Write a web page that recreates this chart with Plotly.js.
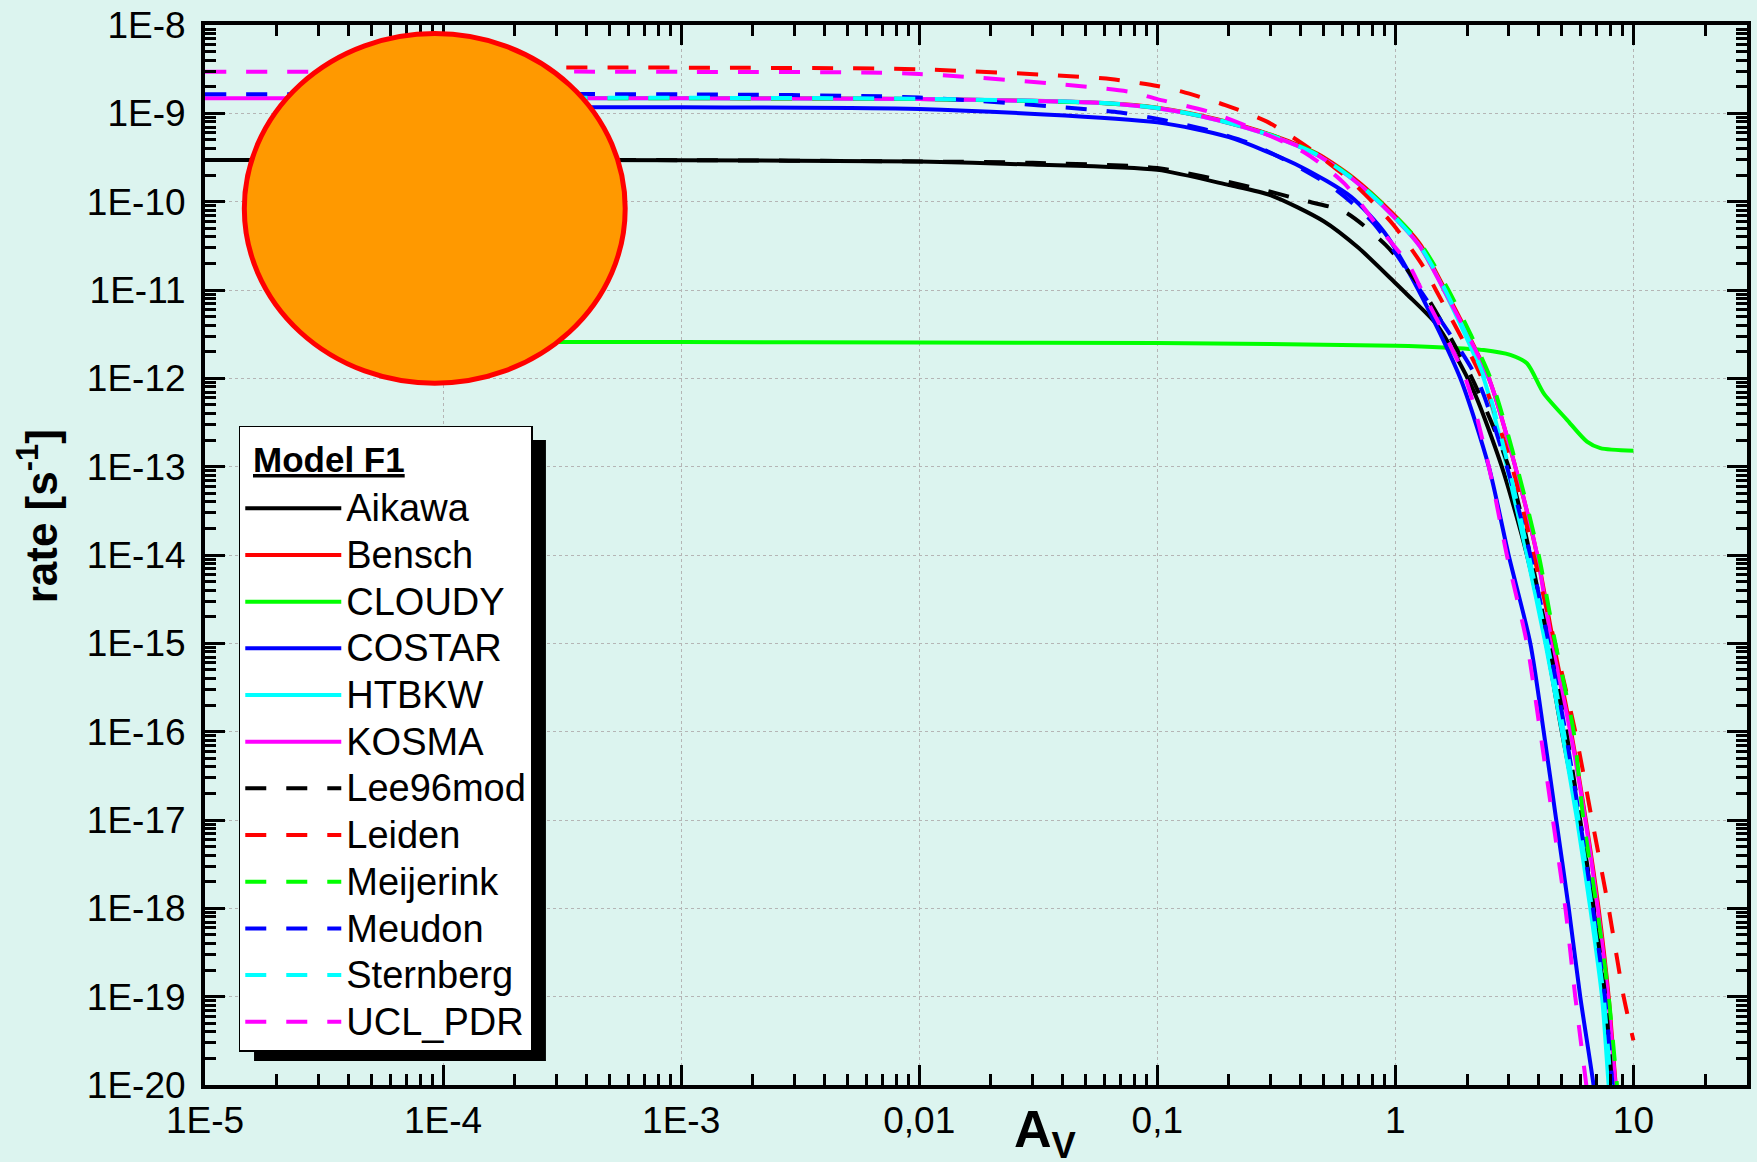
<!DOCTYPE html>
<html><head><meta charset="utf-8">
<script src="https://cdn.plot.ly/plotly-3.0.1.min.js"></script>
<style>html,body{margin:0;padding:0;background:#dcf4ef;}</style>
</head><body><div id="chart" style="width:1757px;height:1162px;"></div>
<script>
// ---- data (A_V, rate [s^-1]) ----
const seriesNames = ['Aikawa','Bensch','CLOUDY','COSTAR','HTBKW','KOSMA','Lee96mod','Leiden','Meijerink','Meudon','Sternberg','UCL_PDR'];
const seriesColors = ['#000000','#ff0000','#00ff00','#0000ff','#00ffff','#ff00ff','#000000','#ff0000','#00ff00','#0000ff','#00ffff','#ff00ff'];
const seriesDash = ['solid','solid','solid','solid','solid','solid','dash','dash','dash','dash','dash','dash'];

const x_Aikawa = [1e-5,1e-4,1e-3,0.01,0.03,0.1,0.2,0.3,0.5,0.7,1.0,1.12,1.5,2.1,2.8,3.57,4.3,5.0,5.9,6.8,7.5,8.0,8.5];
const y_Aikawa = [2.96e-10,2.96e-10,2.95e-10,2.84e-10,2.63e-10,2.29e-10,1.54e-10,1.18e-10,6.0e-11,3.0e-11,1.2e-11,8.9e-12,3.98e-12,7.9e-13,1e-13,1e-14,1e-15,1e-16,1e-17,1e-18,1e-19,1e-20,1.6e-21];

const x_Bensch = [1e-4,1e-3,0.01,0.06,0.1,0.178,0.308,0.469,0.668,0.953,1.27,1.62,2.47,3.19,3.94,4.62,5.47,6.31,7.14,7.87,8.43,8.9];
const y_Bensch = [1.49e-9,1.49e-9,1.45e-9,1.31e-9,1.16e-9,8.6e-10,5.6e-10,3.5e-10,1.85e-10,7.8e-11,3.3e-11,1e-11,1e-12,1e-13,1e-14,1e-15,1e-16,1e-17,1e-18,1e-19,1e-20,2.5e-21];

const x_CLOUDY = [1e-4,1e-3,0.01,0.1,1.0,1.59,2.35,3.04,3.57,4.2,5.26,6.38,7.26,10];
const y_CLOUDY = [2.59e-12,2.57e-12,2.54e-12,2.51e-12,2.34e-12,2.24e-12,2.09e-12,1.84e-12,1.48e-12,6.76e-13,3.39e-13,1.92e-13,1.62e-13,1.51e-13];

const x_COSTAR = [1e-4,1e-3,0.01,0.1,0.2,0.4,0.65,0.9,1.25,1.875,2.47,2.99,3.69,4.2,4.74,5.35,5.98,6.8,7.3];
const y_COSTAR = [1.17e-9,1.17e-9,1.12e-9,7.9e-10,5.37e-10,2.49e-10,1.14e-10,4.47e-11,1e-11,1e-12,1e-13,1e-14,1e-15,1e-16,1e-17,1e-18,1e-19,1e-20,2e-21];

const x_HTBKW = [1e-4,1e-3,0.01,0.06,0.1,0.178,0.308,0.469,0.668,0.953,1.27,1.6,2.35,2.94,3.57,4.27,5.01,5.8,6.59,7.38,7.87,8.3];
const y_HTBKW = [1.48e-9,1.48e-9,1.45e-9,1.30e-9,1.14e-9,8.41e-10,5.45e-10,3.37e-10,1.76e-10,7.38e-11,3.10e-11,1e-11,1e-12,1e-13,1e-14,1e-15,1e-16,1e-17,1e-18,1e-19,1e-20,2e-21];

const x_KOSMA = [1e-5,1e-4,1e-3,0.01,0.06,0.1,0.178,0.308,0.469,0.668,0.953,1.27,1.6,2.47,3.19,3.94,4.55,5.43,6.28,7.08,7.82,8.4,8.9];
const y_KOSMA = [1.48e-9,1.48e-9,1.48e-9,1.45e-9,1.30e-9,1.14e-9,8.41e-10,5.45e-10,3.37e-10,1.76e-10,7.38e-11,3.10e-11,1e-11,1e-12,1e-13,1e-14,1e-15,1e-16,1e-17,1e-18,1e-19,1e-20,2e-21];

const x_Lee96mod = [1e-5,1e-3,0.01,0.03,0.1,0.26,0.4,0.61,0.91,1.3,2.1,2.99,3.69,4.41,5.22,5.98,6.81,7.62,8.13,8.6];
const y_Lee96mod = [2.96e-10,2.95e-10,2.85e-10,2.75e-10,2.4e-10,1.42e-10,1.05e-10,7.7e-11,3.24e-11,1e-11,1e-12,1e-13,1e-14,1e-15,1e-16,1e-17,1e-18,1e-19,1e-20,1.6e-21];

const x_Leiden = [1e-4,1e-3,0.01,0.059,0.085,0.1,0.127,0.193,0.289,0.44,0.668,0.977,1.31,1.48,2.31,3.09,3.81,4.68,5.7,6.7,7.87,9.1,10];
const y_Leiden = [3.29e-9,3.29e-9,3.15e-9,2.49e-9,2.19e-9,2.04e-9,1.76e-9,1.24e-9,8.05e-10,3.92e-10,1.61e-10,5.55e-11,1.84e-11,1e-11,1e-12,1e-13,1e-14,1e-15,1e-16,1e-17,1e-18,1e-19,3.2e-20];

const x_Meijerink = [1e-4,1e-3,0.01,0.06,0.1,0.178,0.308,0.469,0.668,0.953,1.27,1.67,2.51,3.24,4.0,4.7,5.61,6.17,7.03,7.87,8.53,9.0];
const y_Meijerink = [1.48e-9,1.48e-9,1.45e-9,1.30e-9,1.15e-9,8.5e-10,5.55e-10,3.45e-10,1.82e-10,7.8e-11,3.4e-11,1e-11,1e-12,1e-13,1e-14,1e-15,1e-16,1e-17,1e-18,1e-19,1e-20,2.5e-21];

const x_Meudon = [1e-5,1e-3,0.01,0.07,0.106,0.162,0.245,0.362,0.551,0.811,1.27,2.2,2.94,3.69,4.41,5.18,5.96,6.76,7.59,8.17,8.7];
const y_Meudon = [1.64e-9,1.64e-9,1.51e-9,1.02e-9,8.41e-10,6.49e-10,4.57e-10,2.77e-10,1.42e-10,5.69e-11,1e-11,1e-12,1e-13,1e-14,1e-15,1e-16,1e-17,1e-18,1e-19,1e-20,1.6e-21];

const x_Sternberg = [1e-4,1e-3,0.01,0.06,0.1,0.178,0.308,0.469,0.668,0.953,1.27,1.62,2.37,2.99,3.63,4.35,5.1,5.89,6.7,7.5,8.04,8.5];
const y_Sternberg = [1.50e-9,1.50e-9,1.46e-9,1.31e-9,1.15e-9,8.5e-10,5.5e-10,3.4e-10,1.78e-10,7.5e-11,3.15e-11,1e-11,1e-12,1e-13,1e-14,1e-15,1e-16,1e-17,1e-18,1e-19,1e-20,2e-21];

const x_UCL_PDR = [1e-5,1e-3,0.01,0.076,0.1,0.173,0.41,0.61,0.83,1.14,1.29,1.97,2.47,2.94,3.57,4.06,4.59,5.18,5.7,6.34,6.9];
const y_UCL_PDR = [2.96e-9,2.95e-9,2.79e-9,1.76e-9,1.45e-9,1.0e-9,3.68e-10,1.61e-10,5.58e-11,1.92e-11,1e-11,1e-12,1e-13,1e-14,1e-15,1e-16,1e-17,1e-18,1e-19,1e-20,1.6e-21];

const seriesX = [x_Aikawa,x_Bensch,x_CLOUDY,x_COSTAR,x_HTBKW,x_KOSMA,x_Lee96mod,x_Leiden,x_Meijerink,x_Meudon,x_Sternberg,x_UCL_PDR];
const seriesY = [y_Aikawa,y_Bensch,y_CLOUDY,y_COSTAR,y_HTBKW,y_KOSMA,y_Lee96mod,y_Leiden,y_Meijerink,y_Meudon,y_Sternberg,y_UCL_PDR];

const xTickVals = [1e-5,1e-4,1e-3,0.01,0.1,1,10];
const xTickText = ['1E-5','1E-4','1E-3','0,01','0,1','1','10'];
const yTickVals = [1e-20,1e-19,1e-18,1e-17,1e-16,1e-15,1e-14,1e-13,1e-12,1e-11,1e-10,1e-9,1e-8];
const yTickText = ['1E-20','1E-19','1E-18','1E-17','1E-16','1E-15','1E-14','1E-13','1E-12','1E-11','1E-10','1E-9','1E-8'];

const legendTitle = 'Model F1';
const xTitle = 'A<sub>V</sub>';
const yTitle = 'rate [s<sup>-1</sup>]';

// ---- build ----
function minorTicks(e0, e1, maxV) {
  const out = [];
  for (let e = e0; e <= e1; e++) for (let m = 2; m <= 9; m++) {
    const v = m * Math.pow(10, e);
    if (v <= maxV) out.push(v);
  }
  return out;
}
const FONT = 'Liberation Sans, Arial, Helvetica, sans-serif';
const BG = '#dcf4ef';

const traces = seriesNames.map((n, i) => ({
  type: 'scatter', mode: 'lines',
  x: seriesX[i], y: seriesY[i],
  name: '<span style="font-size:38px">' + n + '</span>',
  line: {color: seriesColors[i], width: 4, dash: seriesDash[i] === 'dash' ? '21px,20px' : 'solid', shape: 'spline', smoothing: 0.7},
  hoverinfo: 'skip'
}));

const axisCommon = {
  type: 'log', ticks: 'inside', ticklen: 20, tickwidth: 3, tickcolor: '#000',
  showline: true, linewidth: 4, linecolor: '#000', mirror: 'ticks',
  showgrid: true, gridcolor: '#b5b5b5', griddash: 'dot', gridwidth: 1,
  zeroline: false, tickfont: {family: FONT, size: 37, color: '#000'},
  tickmode: 'array'
};

const layout = {
  width: 1757, height: 1162,
  margin: {l: 205, r: 10, t: 25, b: 77, pad: 0},
  paper_bgcolor: BG, plot_bgcolor: BG,
  font: {family: FONT, color: '#000'},
  showlegend: true,
  xaxis: Object.assign({}, axisCommon, {
    range: [-5, Math.log10(30)], tickvals: xTickVals, ticktext: xTickText,
    minor: {ticks: 'inside', ticklen: 11, tickwidth: 3, tickcolor: '#000', tickmode: 'array', tickvals: minorTicks(-5, 1, 30), showgrid: false}
  }),
  yaxis: Object.assign({}, axisCommon, {
    range: [-20, -8], tickvals: yTickVals, ticktext: yTickText, ticklabelstandoff: 8,
    minor: {ticks: 'inside', ticklen: 11, tickwidth: 3, tickcolor: '#000', tickmode: 'array', tickvals: minorTicks(-20, -9, 1e-8), showgrid: false}
  }),
  legend: {
    x: 0.0219, y: 0.6219, xanchor: 'left', yanchor: 'top',
    bgcolor: '#ffffff', bordercolor: '#000', borderwidth: 1.5,
    font: {family: FONT, size: 33.6, color: '#000'},
    itemwidth: 96, tracegroupgap: 0,
    title: {text: '&nbsp;', font: {family: FONT, size: 40.5, color: '#000'}}
  },
  shapes: [
    {type: 'circle', xref: 'paper', yref: 'paper', x0: 0.0255, x1: 0.2725, y0: 0.6621, y1: 0.9919,
     fillcolor: '#ff9900', line: {color: '#ff0000', width: 5}, layer: 'above'},
    {type: 'rect', xref: 'paper', yref: 'paper', x0: 0.0318, x1: 0.2211, y0: 0.0226, y1: 0.6085,
     fillcolor: '#000000', line: {width: 0}, layer: 'above'}
  ],
  annotations: [
    {text: '<b><u>' + legendTitle + '</u></b>', xref: 'paper', yref: 'paper', x: 0.0300, y: 0.5902,
     xanchor: 'left', yanchor: 'middle', showarrow: false,
     font: {family: FONT, size: 35, color: '#000'}},
    {text: '<b>' + yTitle + '</b>', xref: 'paper', yref: 'paper', x: -0.1085, y: 0.5362,
     xanchor: 'center', yanchor: 'middle', textangle: -90, showarrow: false,
     font: {family: FONT, size: 44, color: '#000'}},
    {text: '<b>' + xTitle + '</b>', xref: 'paper', yref: 'paper', x: 0.5233, y: -0.012,
     xanchor: 'left', yanchor: 'top', showarrow: false,
     font: {family: FONT, size: 52, color: '#000'}}
  ]
};

Plotly.newPlot('chart', traces, layout, {staticPlot: true, displayModeBar: false});
</script></body></html>
